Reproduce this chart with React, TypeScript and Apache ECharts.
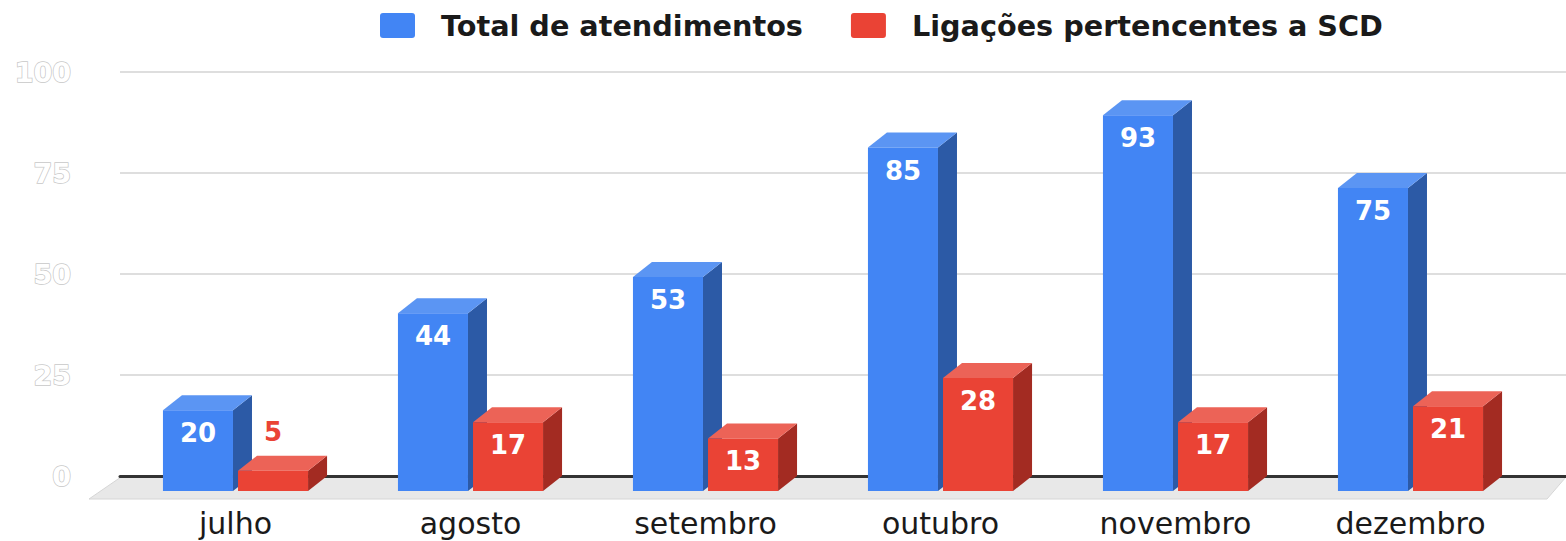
import React, { useEffect, useRef } from "react";
import * as echarts from "echarts";

const months = ["julho", "agosto", "setembro", "outubro", "novembro", "dezembro"];
const totalAtendimentos = [20, 44, 53, 85, 93, 75];
const ligacoesSCD = [5, 17, 13, 28, 17, 21];
const seriesNames = ["Total de atendimentos", "Ligações pertencentes a SCD"];
const yTicks = { min: 0, max: 100, interval: 25 };

const FONT = "DejaVu Sans";
const DX = 19;
const DY = 15;

const palettes = [
  { front: "#4285F4", top: "#5B95F3", side: "#2C5AA6" },
  { front: "#EA4335", top: "#EC6357", side: "#A32B22" },
];

const legendIcon =
  "path://M3,0H32A3,3 0 0 1 35,3V22A3,3 0 0 1 32,25H3A3,3 0 0 1 0,22V3A3,3 0 0 1 3,0Z";

function makeRender(seriesIdx: number) {
  return (params: any, api: any) => {
    const cat = api.value(0);
    const val = api.value(1);
    const top = api.coord([cat, val]);
    const base = api.coord([cat, 0]);
    const band = api.size([1, 0])[0];
    const barW = band * 0.298;
    const halfGap = band * 0.0107;
    const x0 = seriesIdx === 0 ? top[0] - halfGap - barW : top[0] + halfGap;
    const fy = top[1] + DY;
    const fb = base[1] + DY;
    const pal = palettes[seriesIdx];
    const h = fb - fy;
    const inside = h > 40;
    return {
      type: "group",
      children: [
        {
          type: "polygon",
          shape: {
            points: [
              [x0 + barW, fy],
              [x0 + barW + DX, fy - DY],
              [x0 + barW + DX, base[1]],
              [x0 + barW, fb],
            ],
          },
          style: { fill: pal.side },
        },
        {
          type: "polygon",
          shape: {
            points: [
              [x0, fy],
              [x0 + barW, fy],
              [x0 + barW + DX, fy - DY],
              [x0 + DX, fy - DY],
            ],
          },
          style: { fill: pal.top },
        },
        {
          type: "rect",
          shape: { x: x0, y: fy, width: barW, height: h },
          style: { fill: pal.front },
        },
        {
          type: "text",
          style: {
            text: String(val),
            x: x0 + barW / 2,
            y: inside ? fy + 23 : fy - 39,
            align: "center",
            verticalAlign: "middle",
            fill: inside ? "#ffffff" : pal.front,
            stroke: inside ? undefined : "#ffffff",
            lineWidth: inside ? 0 : 5,
            font: `bold 26px "${FONT}"`,
          },
          z2: 10,
        },
      ],
    };
  };
}

export default function App() {
  const ref = useRef<HTMLDivElement>(null);
  useEffect(() => {
    if (!ref.current) return;
    const chart = echarts.init(ref.current, null, { renderer: "svg" });
    const option: any = {
      animation: false,
      backgroundColor: "#ffffff",
      textStyle: { fontFamily: FONT },
      legend: {
        left: 380,
        top: 11,
        padding: 0,
        itemWidth: 35,
        itemHeight: 25,
        itemGap: 48,
        icon: legendIcon,
        data: seriesNames,
        textStyle: {
          fontFamily: FONT,
          fontWeight: "bold",
          fontSize: 28.7,
          color: "#1a1a1a",
          padding: [0, 0, 0, 21],
        },
      },
      graphic: [
        {
          type: "polygon",
          z: -10,
          shape: {
            points: [
              [121, 477],
              [1566, 477],
              [1547, 499],
              [89, 499],
            ],
          },
          style: { fill: "#E8E8E8", stroke: "#D6D6D6", lineWidth: 1 },
        },
      ],
      grid: [
        { left: 118, right: 38, top: 72, bottom: 65 },
        { left: 120, right: 0, top: 72, bottom: 65 },
      ],
      xAxis: [
        {
          type: "category",
          gridIndex: 0,
          data: months,
          axisLine: { show: false },
          axisTick: { show: false },
          axisLabel: {
            fontFamily: FONT,
            fontSize: 30,
            color: "#1a1a1a",
            margin: 32,
          },
        },
        {
          type: "category",
          gridIndex: 1,
          data: [""],
          axisLine: { show: true, lineStyle: { color: "#333333", width: 3 } },
          axisTick: { show: false },
          axisLabel: { show: false },
        },
      ],
      yAxis: [
        { type: "value", gridIndex: 0, ...yTicks, show: false },
        {
          type: "value",
          gridIndex: 1,
          ...yTicks,
          axisLine: { show: false },
          axisTick: { show: false },
          splitLine: { lineStyle: { color: "#D3D3D3", width: 1.5 } },
          axisLabel: {
            margin: 49,
            fontFamily: FONT,
            fontWeight: "bold",
            fontSize: 27,
            color: "#ffffff",
            textBorderColor: "#C8C8C8",
            textBorderWidth: 1.5,
          },
        },
      ],
      series: [totalAtendimentos, ligacoesSCD].map((vals, si) => ({
        type: "custom",
        name: seriesNames[si],
        xAxisIndex: 0,
        yAxisIndex: 0,
        itemStyle: { color: palettes[si].front },
        encode: { x: 0, y: 1 },
        data: vals.map((v, i) => [i, v]),
        renderItem: makeRender(si),
      })),
    };
    chart.setOption(option);
    return () => chart.dispose();
  }, []);
  return (
    <div
      ref={ref}
      style={{ position: "absolute", left: 0, top: 0, width: 1566, height: 541 }}
    />
  );
}
